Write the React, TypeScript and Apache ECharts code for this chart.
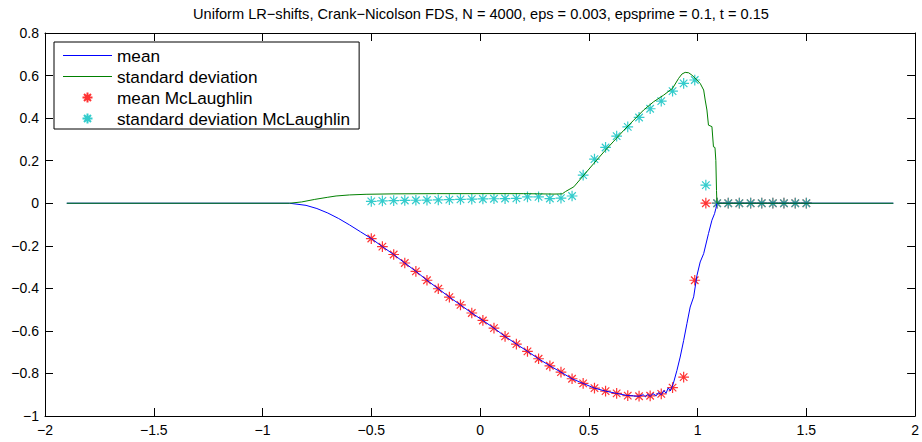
import React, { useEffect, useRef } from 'react';
import * as echarts from 'echarts';

const titleText =
  'Uniform LR\u2212shifts, Crank\u2212Nicolson FDS, N = 4000, eps = 0.003, epsprime = 0.1, t = 0.15';

const seriesNames = ['mean', 'standard deviation', 'mean McLaughlin', 'standard deviation McLaughlin'];
const seriesColors = ['#0000ff', '#008000', '#ff0000', '#00bfbf'];

// Finite-difference mean curve
const meanCurveX = [
  -1.9, -0.876, -0.8, -0.75, -0.7, -0.65, -0.6, -0.55, -0.5, -0.449, -0.397, -0.346, -0.295, -0.244,
  -0.192, -0.141, -0.09, -0.038, 0.013, 0.064, 0.115, 0.167, 0.218, 0.269, 0.321, 0.372, 0.423, 0.474,
  0.526, 0.577, 0.628, 0.679, 0.731, 0.75, 0.76, 0.77, 0.782, 0.795, 0.81, 0.82, 0.833, 0.845, 0.855,
  0.865, 0.875, 0.888, 0.905, 0.92, 0.936, 0.951, 0.966, 0.982, 0.997, 1.012, 1.028, 1.05, 1.066, 1.078,
  1.084, 1.089, 1.9,
];
const meanCurveY = [
  0, 0, -0.01, -0.025, -0.046, -0.072, -0.102, -0.134, -0.166, -0.204, -0.241, -0.281, -0.32, -0.362,
  -0.402, -0.441, -0.478, -0.516, -0.551, -0.587, -0.626, -0.662, -0.696, -0.731, -0.764, -0.794, -0.825,
  -0.847, -0.869, -0.883, -0.894, -0.904, -0.907, -0.9, -0.91, -0.898, -0.908, -0.895, -0.905, -0.89,
  -0.9, -0.88, -0.893, -0.868, -0.882, -0.849, -0.786, -0.723, -0.645, -0.566, -0.488, -0.44, -0.34,
  -0.276, -0.237, -0.143, -0.08, -0.049, -0.025, 0, 0,
];

// Finite-difference standard deviation curve
const stdCurveX = [
  -1.9, -0.876, -0.82, -0.76, -0.7, -0.662, -0.6, -0.524, -0.4, -0.2, 0, 0.2, 0.34, 0.378, 0.393, 0.431,
  0.477, 0.523, 0.569, 0.615, 0.661, 0.706, 0.752, 0.798, 0.844, 0.885, 0.913, 0.928, 0.943, 0.959,
  0.974, 0.997, 1.012, 1.028, 1.035, 1.043, 1.05, 1.066, 1.073, 1.08, 1.084, 1.087, 1.089, 1.9,
];
const stdCurveY = [
  0, 0, 0.006, 0.018, 0.028, 0.034, 0.039, 0.042, 0.044, 0.045, 0.045, 0.045, 0.043, 0.044, 0.055, 0.077,
  0.132, 0.187, 0.241, 0.292, 0.343, 0.39, 0.438, 0.477, 0.508, 0.54, 0.587, 0.607, 0.615, 0.613, 0.602,
  0.579, 0.563, 0.532, 0.485, 0.438, 0.367, 0.36, 0.265, 0.262, 0.2, 0.06, 0, 0,
];

// McLaughlin reference points
const markerX = [
  -0.5, -0.449, -0.397, -0.346, -0.295, -0.244, -0.192, -0.141, -0.09, -0.038, 0.013, 0.064, 0.115, 0.167,
  0.218, 0.269, 0.321, 0.372, 0.423, 0.474, 0.526, 0.577, 0.628, 0.679, 0.731, 0.782, 0.833, 0.885, 0.936,
  0.987, 1.038, 1.09, 1.141, 1.192, 1.244, 1.295, 1.346, 1.397, 1.449, 1.5,
];
const mcMean = [
  -0.166, -0.204, -0.241, -0.281, -0.32, -0.362, -0.402, -0.441, -0.478, -0.516, -0.551, -0.587, -0.626,
  -0.662, -0.696, -0.731, -0.764, -0.794, -0.825, -0.847, -0.869, -0.883, -0.894, -0.904, -0.907, -0.905,
  -0.896, -0.867, -0.817, -0.362, 0, 0, 0, 0, 0, 0, 0, 0, 0, 0,
];
const mcStd = [
  0.009, 0.011, 0.012, 0.013, 0.014, 0.015, 0.016, 0.017, 0.018, 0.019, 0.02, 0.021, 0.022, 0.023, 0.03,
  0.03, 0.022, 0.024, 0.034, 0.132, 0.207, 0.262, 0.315, 0.359, 0.403, 0.444, 0.48, 0.527, 0.563, 0.579,
  0.085, 0, 0, 0, 0, 0, 0, 0, 0, 0,
];

const xTicks = { min: -2, max: 2, interval: 0.5 };
const yTicks = { min: -1, max: 0.8, interval: 0.2 };

const FONT = '"Liberation Sans", Arial, Helvetica, sans-serif';
const ASTERISK = 'path://M-7,-7M7,7M0,-5L0,5M-5,0L5,0M-3.5,-3.5L3.5,3.5M-3.5,3.5L3.5,-3.5';
const LINE_ICON = 'path://M0,0L49,0L49,1L0,1Z';

const fmt = (v: number) => String(Math.round(v * 10) / 10).replace('-', '\u2212');

const zip = (xs: number[], ys: number[]) => xs.map((x, i) => [x, ys[i]]);

export default function App() {
  const ref = useRef<HTMLDivElement>(null);
  useEffect(() => {
    if (!ref.current) return;
    const chart = echarts.init(ref.current, null, { renderer: 'svg' });
    const axisLine = { show: true, onZero: false, lineStyle: { color: '#000', width: 1 } };
    const axisTick = { show: true, inside: true, length: 8, lineStyle: { color: '#000', width: 1 } };
    const label = { color: '#000', fontSize: 14, fontFamily: FONT, formatter: fmt };
    chart.setOption({
      animation: false,
      backgroundColor: '#fff',
      title: {
        text: titleText,
        left: 481,
        top: 6,
        padding: 0,
        textAlign: 'center',
        textStyle: { fontSize: 14.6, fontWeight: 'normal', fontFamily: FONT, color: '#000' },
      },
      grid: { left: 45, right: 4, top: 33, bottom: 26, containLabel: false },
      legend: {
        orient: 'vertical',
        left: 54,
        top: 42,
        padding: [5, 9, 2, 9],
        itemGap: 4,
        itemWidth: 49,
        itemHeight: 14,
        borderColor: '#000',
        borderWidth: 1,
        backgroundColor: '#fff',
        selectedMode: false,
        textStyle: { fontFamily: FONT, fontSize: 17.2, color: '#000' },
        data: [
          {
            name: seriesNames[0], icon: LINE_ICON,
            itemStyle: { color: seriesColors[0], borderWidth: 0, borderColor: 'transparent' },
          },
          {
            name: seriesNames[1], icon: LINE_ICON,
            itemStyle: { color: seriesColors[1], borderWidth: 0, borderColor: 'transparent' },
          },
          { name: seriesNames[2] },
          { name: seriesNames[3] },
        ],
      },
      xAxis: [
        {
          type: 'value', ...xTicks, position: 'bottom', axisLine, axisTick,
          axisLabel: { ...label, margin: 7 }, splitLine: { show: false },
        },
        {
          type: 'value', ...xTicks, position: 'top', axisLine, axisTick,
          axisLabel: { show: false }, splitLine: { show: false },
        },
      ],
      yAxis: [
        {
          type: 'value', ...yTicks, position: 'left', axisLine, axisTick,
          axisLabel: { ...label, margin: 6 }, splitLine: { show: false },
        },
        {
          type: 'value', ...yTicks, position: 'right', axisLine, axisTick,
          axisLabel: { show: false }, splitLine: { show: false },
        },
      ],
      series: [
        {
          name: seriesNames[0], type: 'line', data: zip(meanCurveX, meanCurveY), showSymbol: false,
          symbol: 'none', lineStyle: { color: seriesColors[0], width: 1 }, itemStyle: { color: seriesColors[0] },
        },
        {
          name: seriesNames[1], type: 'line', data: zip(stdCurveX, stdCurveY), showSymbol: false,
          symbol: 'none', lineStyle: { color: seriesColors[1], width: 1 }, itemStyle: { color: seriesColors[1] },
        },
        {
          name: seriesNames[2], type: 'scatter', data: zip(markerX, mcMean), symbol: ASTERISK, symbolSize: 15,
          itemStyle: { color: seriesColors[2], borderColor: seriesColors[2], borderWidth: 1.2 },
        },
        {
          name: seriesNames[3], type: 'scatter', data: zip(markerX, mcStd), symbol: ASTERISK, symbolSize: 15,
          itemStyle: { color: seriesColors[3], borderColor: seriesColors[3], borderWidth: 1.2 },
        },
      ],
    });
    return () => chart.dispose();
  }, []);
  return (
    <div
      ref={ref}
      style={{ position: 'absolute', left: 0, top: 0, width: 922, height: 442, background: '#fff' }}
    />
  );
}
